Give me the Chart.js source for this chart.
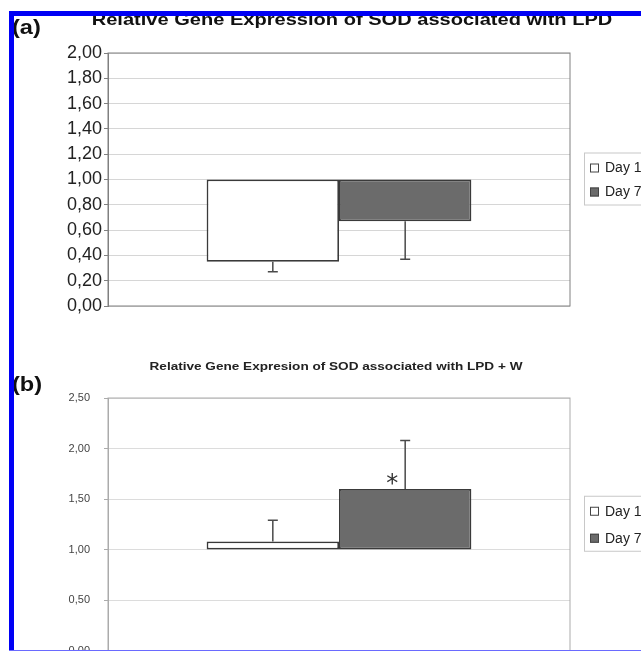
<!DOCTYPE html>
<html>
<head>
<meta charset="utf-8">
<script src="https://cdn.jsdelivr.net/npm/chart.js@4.4.0/dist/chart.umd.min.js"></script>
<style>
  html, body { margin: 0; padding: 0; background: #fff; }
  body { width: 641px; height: 651px; position: relative; overflow: hidden; font-family: "Liberation Sans", Arial, sans-serif; color: #111; }
  canvas { position: absolute; left: 0; }
  #chartA { top: 0; }
  #chartB { top: 330px; }
  .title { position: absolute; font-weight: bold; white-space: nowrap; transform-origin: center; }
  #titleA { left: 352px; top: 11px; font-size: 17px; line-height: 17px; transform: translateX(-50%) scaleX(1.18); }
  #titleB { left: 336px; top: 360px; font-size: 11.5px; line-height: 12px; transform: translateX(-50%) scaleX(1.18); color: #222; }
  .panel { position: absolute; left: 12px; font-weight: bold; font-size: 20px; line-height: 20px; transform-origin: left; transform: scaleX(1.18); }
  #panelA { top: 17px; }
  #panelB { top: 374px; }
  .edge { position: absolute; background: #0000f5; }
  #edgeTop { left: 9px; top: 11px; right: 0; height: 5px; }
  #edgeLeft { left: 9px; top: 11px; width: 5px; bottom: 0; }
  #edgeBottom { left: 9px; top: 650px; right: 0; height: 1px; background: #6a6aff; }
</style>
</head>
<body>
<canvas id="chartA" width="641" height="330"></canvas>
<canvas id="chartB" width="641" height="345"></canvas>
<div class="title" id="titleA">Relative Gene Expression of SOD associated with LPD</div>
<div class="title" id="titleB">Relative Gene Expresion of SOD associated with LPD + W</div>
<div class="panel" id="panelA">(a)</div>
<div class="panel" id="panelB">(b)</div>
<div class="edge" id="edgeTop"></div>
<div class="edge" id="edgeLeft"></div>
<div class="edge" id="edgeBottom"></div>
<script>
// one group, two days; bars start at the 1,00 line
const categories = ['SOD'];
const seriesLabels = ['Day 1', 'Day 7'];
const baseValue = 1.0;

// (a) LPD
const lpdValues = [0.35, 0.67];
const lpdErrors = [0.08, 0.30];
const lpdTicks = [0, 0.2, 0.4, 0.6, 0.8, 1.0, 1.2, 1.4, 1.6, 1.8, 2.0];

// (b) LPD + W
const lpdwValues = [1.08, 1.60];
const lpdwErrors = [0.21, 0.48];
const lpdwMarks = ['', '*'];
const lpdwTicks = [0, 0.5, 1.0, 1.5, 2.0, 2.5];

const fills = ['#ffffff', '#6b6b6b'];
const FONT = '"Liberation Sans", Arial, sans-serif';

const extras = {
    id: 'extras',
    beforeDatasetsDraw(chart, args, opts) {
        const { ctx, chartArea: a } = chart;
        ctx.save();
        ctx.strokeStyle = opts.frameColor;
        ctx.lineWidth = 1;
        ctx.strokeRect(a.left, a.top, a.right - a.left, a.bottom - a.top);
        ctx.restore();
    },
    afterDatasetsDraw(chart, args, opts) {
        const { ctx, chartArea: a } = chart;
        const y = chart.scales.y;
        ctx.save();

        // error bars, pointing away from the base line
        chart.data.datasets.forEach((ds, i) => {
            const bar = chart.getDatasetMeta(i).data[0];
            const v = opts.values[i];
            const e = opts.errors[i];
            const yStart = y.getPixelForValue(v);
            const yEnd = y.getPixelForValue(v < baseValue ? v - e : v + e);
            ctx.strokeStyle = '#4a4a4a';
            ctx.lineWidth = 1.5;
            ctx.beginPath();
            ctx.moveTo(bar.x, yStart);
            ctx.lineTo(bar.x, yEnd);
            ctx.moveTo(bar.x - 5, yEnd);
            ctx.lineTo(bar.x + 5, yEnd);
            ctx.stroke();

            if (opts.marks && opts.marks[i]) {
                ctx.fillStyle = '#333';
                ctx.font = '24px "DejaVu Sans"';
                ctx.textAlign = 'center';
                ctx.textBaseline = 'alphabetic';
                ctx.fillText(opts.marks[i], bar.x - 13, yStart + 2);
            }
        });

        // boxed legend right of the plot
        const n = chart.data.datasets.length;
        const mid = (a.top + a.bottom) / 2;
        const first = mid - opts.rowGap * (n - 1) / 2;
        const left = a.right + 14;
        ctx.strokeStyle = '#c8c8c8';
        ctx.lineWidth = 1;
        ctx.strokeRect(left + 0.5, first - 14.5, 90, opts.rowGap * (n - 1) + 28);
        ctx.font = '14px ' + FONT;
        ctx.textAlign = 'left';
        ctx.textBaseline = 'middle';
        chart.data.datasets.forEach((ds, i) => {
            const ry = first + i * opts.rowGap;
            ctx.fillStyle = ds.backgroundColor;
            ctx.fillRect(left + 6, ry - 4, 9, 9);
            ctx.strokeStyle = '#444';
            ctx.strokeRect(left + 6.5, ry - 3.5, 8, 8);
            ctx.fillStyle = '#222';
            ctx.fillText(ds.label, left + 21, ry + 1);
        });
        ctx.restore();
    }
};

function makeChart(id, values, errors, marks, yTicks, look) {
    const ctx = document.getElementById(id).getContext('2d');
    return new Chart(ctx, {
        type: 'bar',
        data: {
            labels: categories,
            datasets: seriesLabels.map((label, i) => ({
                label: label,
                data: [[baseValue, values[i]]],
                backgroundColor: fills[i],
                borderColor: '#3a3a3a',
                borderWidth: 1.75,
                borderSkipped: false,
                barPercentage: 1,
                categoryPercentage: 0.573
            }))
        },
        options: {
            responsive: false,
            animation: false,
            devicePixelRatio: 1,
            layout: { padding: look.padding },
            plugins: {
                legend: { display: false },
                tooltip: { enabled: false },
                title: { display: false },
                extras: {
                    values: values,
                    errors: errors,
                    marks: marks,
                    frameColor: look.frame,
                    rowGap: look.rowGap
                }
            },
            scales: {
                x: { display: false },
                y: {
                    min: yTicks[0],
                    max: yTicks[yTicks.length - 1],
                    afterBuildTicks: s => { s.ticks = yTicks.map(v => ({ value: v })); },
                    afterFit: s => { s.width = 60; },
                    ticks: {
                        callback: v => Number(v).toFixed(2).replace('.', ','),
                        font: { family: FONT, size: look.fontSize },
                        color: look.tickText,
                        padding: look.tickPad
                    },
                    grid: { color: look.grid, tickColor: look.frame, tickLength: 4 },
                    border: { display: true, color: look.frame }
                }
            }
        },
        plugins: [extras]
    });
}

makeChart('chartA', lpdValues, lpdErrors, null, lpdTicks, {
    padding: { left: 48, right: 71, top: 53, bottom: 24 },
    frame: '#808080', grid: '#d6d6d6', tickText: '#222',
    fontSize: 18, tickPad: 2, rowGap: 24
});

makeChart('chartB', lpdwValues, lpdwErrors, lpdwMarks, lpdwTicks, {
    padding: { left: 48, right: 71, top: 68, bottom: 24.5 },
    frame: '#ababab', grid: '#dcdcdc', tickText: '#444',
    fontSize: 11, tickPad: 14, rowGap: 27
});
</script>
</body>
</html>
